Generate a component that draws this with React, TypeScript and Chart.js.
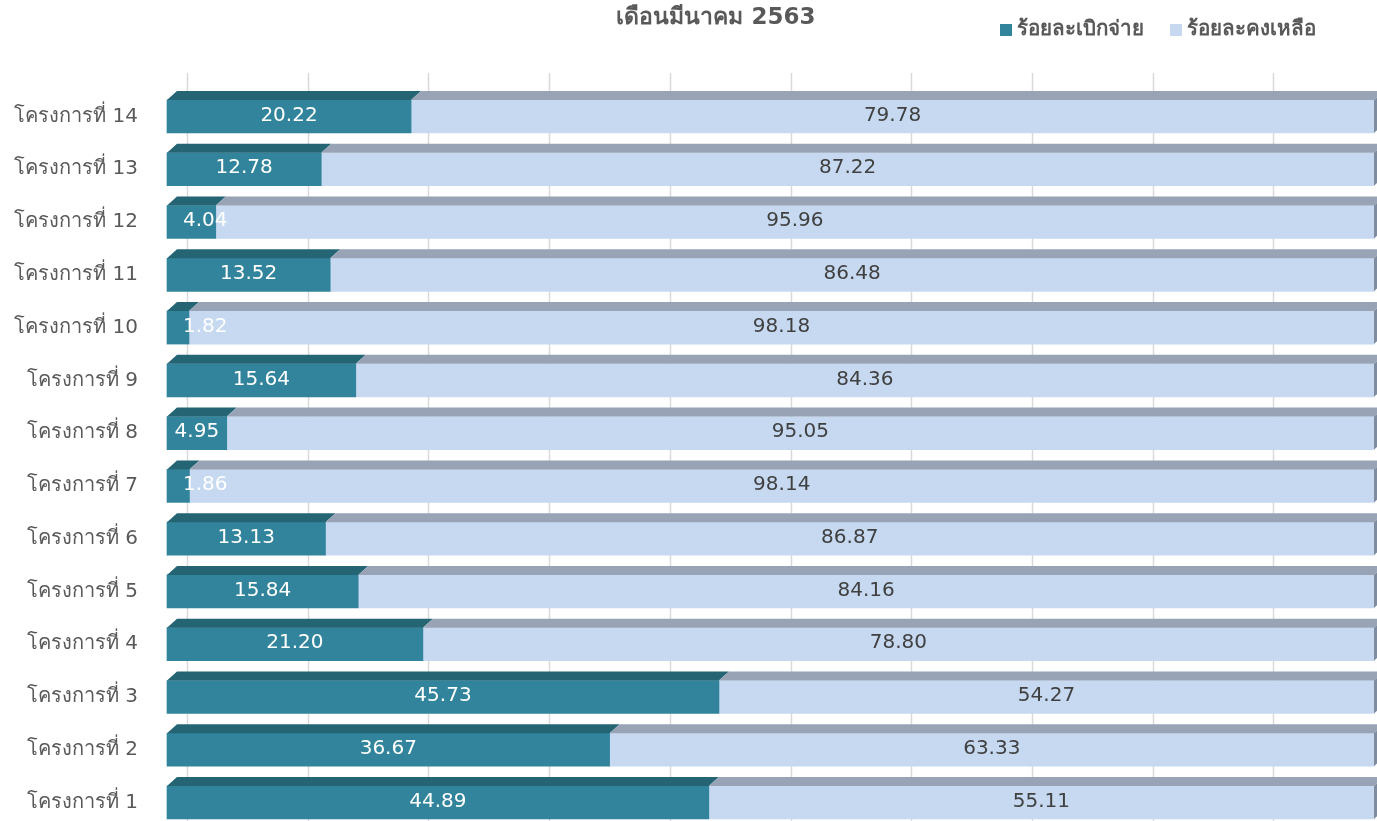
import React, { useEffect, useRef } from "react";
import { Chart, registerables } from "chart.js";

Chart.register(...registerables);

const projects = [
  "โครงการที่ 1", "โครงการที่ 2", "โครงการที่ 3", "โครงการที่ 4", "โครงการที่ 5",
  "โครงการที่ 6", "โครงการที่ 7", "โครงการที่ 8", "โครงการที่ 9", "โครงการที่ 10",
  "โครงการที่ 11", "โครงการที่ 12", "โครงการที่ 13", "โครงการที่ 14",
];
const disbursed = [44.89, 36.67, 45.73, 21.2, 15.84, 13.13, 1.86, 4.95, 15.64, 1.82, 13.52, 4.04, 12.78, 20.22];
const remaining = [55.11, 63.33, 54.27, 78.8, 84.16, 86.87, 98.14, 95.05, 84.36, 98.18, 86.48, 95.96, 87.22, 79.78];
const seriesNames = ["ร้อยละเบิกจ่าย", "ร้อยละคงเหลือ"];
const titleText = "เดือนมีนาคม 2563";
const gridValues = [0, 10, 20, 30, 40, 50, 60, 70, 80, 90, 100];

const FONT = "Tahoma, 'DejaVu Sans', 'Noto Sans', sans-serif";
const FRONT = ["#31849B", "#C6D9F1"];
const TOP = ["#256473", "#98A4B6"];
const SIDE = "#7F8C9F";
const DX = 10;
const DY = 9;
const CANVAS_H = 840;

const depthPlugin = {
  id: "depth",
  beforeDatasetsDraw(chart: any) {
    const ctx = chart.ctx;
    const xs = chart.scales.x;
    ctx.save();
    ctx.strokeStyle = "#D9D9D9";
    ctx.lineWidth = 1.5;
    gridValues.forEach((v) => {
      const x = Math.round(xs.getPixelForValue(v) + 20) + 0.5;
      ctx.beginPath();
      ctx.moveTo(x, 73);
      ctx.lineTo(x, chart.height);
      ctx.stroke();
    });
    ctx.restore();
  },
  afterDatasetsDraw(chart: any) {
    const ctx = chart.ctx;
    ctx.save();
    chart.data.datasets.forEach((ds: any, di: number) => {
      const meta = chart.getDatasetMeta(di);
      meta.data.forEach((el: any) => {
        const { x, y, base, height } = el.getProps(["x", "y", "base", "height"], true);
        const top = y - height / 2;
        const bottom = y + height / 2;
        ctx.fillStyle = TOP[di];
        ctx.beginPath();
        ctx.moveTo(base, top);
        ctx.lineTo(base + DX, top - DY);
        ctx.lineTo(x + DX, top - DY);
        ctx.lineTo(x, top);
        ctx.closePath();
        ctx.fill();
        if (di === chart.data.datasets.length - 1) {
          ctx.fillStyle = SIDE;
          ctx.beginPath();
          ctx.moveTo(x, top);
          ctx.lineTo(x + DX, top - DY);
          ctx.lineTo(x + DX, bottom - DY);
          ctx.lineTo(x, bottom);
          ctx.closePath();
          ctx.fill();
        }
      });
    });
    // labels
    ctx.font = `20px ${FONT}`;
    ctx.textBaseline = "middle";
    chart.data.datasets.forEach((ds: any, di: number) => {
      const meta = chart.getDatasetMeta(di);
      meta.data.forEach((el: any, i: number) => {
        const { x, y, base } = el.getProps(["x", "y", "base"], true);
        const txt = Number(ds.data[i]).toFixed(2);
        const tw = ctx.measureText(txt).width;
        ctx.fillStyle = di === 0 ? "#FFFFFF" : "#404040";
        let cx = (x + base) / 2;
        if (tw + 6 > x - base) cx = base + 16 + tw / 2;
        ctx.textAlign = "center";
        ctx.fillText(txt, cx, y - 1);
      });
    });
    // title
    ctx.fillStyle = "#595959";
    ctx.font = `bold 23px ${FONT}`;
    ctx.textAlign = "center";
    ctx.fillText(titleText, 716, 18);
    // legend
    ctx.font = `bold 20.5px ${FONT}`;
    ctx.textAlign = "left";
    let lx = 1000;
    seriesNames.forEach((name, i) => {
      ctx.fillStyle = FRONT[i];
      ctx.fillRect(lx, 24, 12, 12);
      ctx.fillStyle = "#595959";
      ctx.fillText(name, lx + 17, 30);
      lx += 17 + ctx.measureText(name).width + 26;
    });
    ctx.restore();
  },
};

export default function App() {
  const ref = useRef<HTMLCanvasElement | null>(null);
  useEffect(() => {
    if (!ref.current) return;
    const chart = new Chart(ref.current, {
      type: "bar",
      data: {
        labels: projects,
        datasets: [
          { label: seriesNames[0], data: disbursed, backgroundColor: FRONT[0], barThickness: 33, clip: false as any },
          { label: seriesNames[1], data: remaining, backgroundColor: FRONT[1], barThickness: 33, clip: false as any },
        ],
      },
      options: {
        indexAxis: "y",
        responsive: false,
        animation: false,
        layout: { padding: { top: 90.1, bottom: CANVAS_H - 828.9, right: 3, left: 0 } },
        plugins: { legend: { display: false }, title: { display: false }, tooltip: { enabled: false } },
        scales: {
          x: { stacked: true, min: 0, max: 100, display: false },
          y: {
            stacked: true,
            reverse: true,
            offset: true,
            grid: { display: false },
            border: { display: false },
            afterFit: (s: any) => {
              s.width = 167;
              s.paddingTop = 0;
              s.paddingBottom = 0;
            },
            ticks: { padding: 21, color: "#595959", font: { size: 20, family: FONT } },
          },
        },
      },
      plugins: [depthPlugin],
    });
    return () => chart.destroy();
  }, []);
  return (
    <div style={{ position: "fixed", left: 0, top: 0, width: 1377, height: 821, overflow: "hidden", background: "#fff" }}>
      <canvas ref={ref} width={1377} height={CANVAS_H} style={{ display: "block" }} />
    </div>
  );
}
